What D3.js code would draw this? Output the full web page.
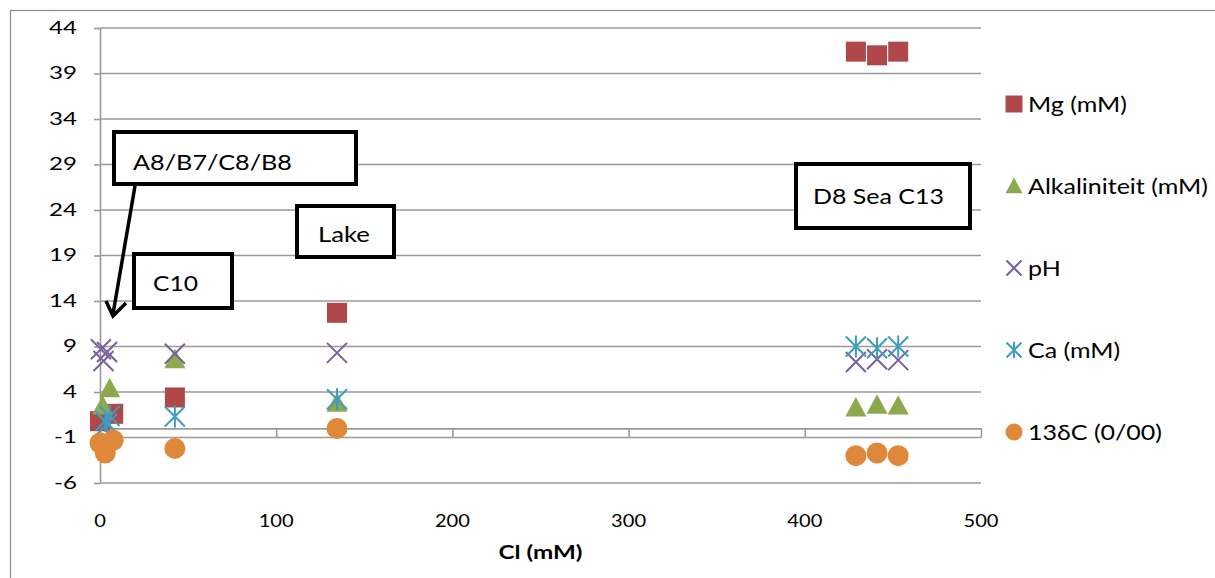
<!DOCTYPE html>
<html>
<head>
<meta charset="utf-8">
<script src="https://cdn.jsdelivr.net/npm/d3@7"></script>
<style>
  html, body { margin: 0; padding: 0; background: #fff; }
  svg { display: block; }
  text { font-family: Lato, "Open Sans", sans-serif; fill: #000; }
</style>
</head>
<body>
<svg id="chart" width="1215" height="578"></svg>
<script>
// Tick values
const yTicks = [-6, -1, 4, 9, 14, 19, 24, 29, 34, 39, 44];
const xTicks = [0, 100, 200, 300, 400, 500];

// Series: Cl concentration (mM) and measured value
const mgCl  = [0, 7.5, 42.5, 134.5, 429, 441, 453];
const mgVal = [0.8, 1.6, 3.4, 12.7, 41.4, 41.0, 41.4];

const alkCl  = [1.5, 5.5, 42.5, 134.5, 429, 441, 453];
const alkVal = [2.5, 4.4, 7.6, 2.8, 2.3, 2.6, 2.5];

const phCl  = [0.5, 4, 2, 42.5, 134.5, 429, 441, 453];
const phVal = [8.7, 8.4, 7.4, 8.2, 8.3, 7.3, 7.6, 7.5];

const caCl  = [3, 5.5, 4, 42.5, 134.5, 429, 441, 453];
const caVal = [0.8, 1.35, 0.5, 1.3, 3.2, 9.0, 8.8, 9.0];

const c13Cl  = [0, 3, 7.5, 42.5, 134.5, 429, 441, 453];
const c13Val = [-1.6, -2.7, -1.3, -2.2, 0, -3.0, -2.7, -3.0];

const seriesNames  = ["Mg (mM)", "Alkaliniteit (mM)", "pH", "Ca (mM)", "13\u03B4C (0/00)"];
const seriesColors = ["#B0484A", "#8CA94E", "#7C5F9E", "#3E9DBE", "#E0883A"];
const seriesShapes = ["square", "triangle", "x", "star", "circle"];

// Callout boxes
const boxLabels = ["A8/B7/C8/B8", "C10", "Lake", "D8 Sea C13"];

const svg = d3.select("#chart");
const W = 1215, H = 578;

const x = d3.scaleLinear().domain([0, 500]).range([100, 981]);
const y = d3.scaleLinear().domain([-6, 44]).range([483, 28]);

// Horizontal stretch so that a sample string at the given size spans the wanted width
function stretchFor(sample, size, bold, wanted) {
  const t = svg.append("text").attr("font-size", size)
    .attr("font-weight", bold ? "bold" : null).text(sample);
  const w = t.node().getComputedTextLength();
  t.remove();
  return w > 0 ? wanted / w : 1;
}

function wideText(parent, px, py, str, size, stretch, anchor, bold) {
  const g = parent.append("g").attr("transform", `translate(${px},${py}) scale(${stretch},1)`);
  g.append("text")
    .attr("text-anchor", anchor || "start")
    .attr("dy", "0.35em")
    .attr("font-size", size)
    .attr("font-weight", bold ? "bold" : null)
    .text(str);
  return g;
}

// Outer chart frame
svg.append("rect")
  .attr("x", 10.5).attr("y", 10.5)
  .attr("width", W + 20).attr("height", H + 20)
  .attr("fill", "none").attr("stroke", "#8c8c8c").attr("stroke-width", 1.2);

const gridColor = "#9a9a9a";

// Horizontal gridlines
svg.append("g").selectAll("line")
  .data(yTicks)
  .join("line")
  .attr("x1", x(0)).attr("x2", x(500))
  .attr("y1", d => y(d)).attr("y2", d => y(d))
  .attr("stroke", gridColor).attr("stroke-width", 1.6);

// Y axis (vertical line at Cl = 0)
const yAxis = d3.axisLeft(y).tickValues(yTicks).tickSize(6).tickSizeOuter(0).tickFormat("");
const gy = svg.append("g").attr("transform", `translate(${x(0)},0)`).call(yAxis);
gy.select(".domain").attr("stroke", gridColor).attr("stroke-width", 1.6);
gy.selectAll(".tick line").attr("stroke", gridColor).attr("stroke-width", 1.6);

const ySx = stretchFor("44", 17, false, 28);
const yLabels = svg.append("g");
yTicks.forEach(t => wideText(yLabels, 77, y(t), t, 17, ySx, "end"));

// X axis (horizontal line at value 0) with ticks reaching down
const xAxis = d3.axisBottom(x).tickValues(xTicks).tickSize(y(-1) - y(0)).tickSizeOuter(0).tickFormat("");
const gx = svg.append("g").attr("transform", `translate(0,${y(0)})`).call(xAxis);
gx.select(".domain").attr("stroke", gridColor).attr("stroke-width", 1.6);
gx.selectAll(".tick line").attr("stroke", gridColor).attr("stroke-width", 1.6);

// X tick labels below the plot
const xSx = stretchFor("100", 17, false, 35);
const xLabels = svg.append("g");
xTicks.forEach(t => wideText(xLabels, x(t), 521, t, 17, xSx, "middle"));

// X axis title
wideText(svg, x(250), 552, "Cl (mM)", 19, stretchFor("Cl (mM)", 19, true, 84), "middle", true);

// Marker drawing
function drawMarker(g, shape, color, s) {
  const h = s / 2;
  if (shape === "square") {
    g.append("rect").attr("x", -h).attr("y", -h).attr("width", s).attr("height", s)
      .attr("fill", color);
  } else if (shape === "triangle") {
    g.append("path").attr("d", `M0,${-h} L${h},${h * 0.85} L${-h},${h * 0.85} Z`)
      .attr("fill", color);
  } else if (shape === "circle") {
    g.append("circle").attr("r", h).attr("fill", color);
  } else if (shape === "x") {
    g.append("path").attr("d", `M${-h},${-h} L${h},${h} M${-h},${h} L${h},${-h}`)
      .attr("stroke", color).attr("stroke-width", 2).attr("fill", "none");
  } else if (shape === "star") {
    g.append("path").attr("d", `M${-h},${-h} L${h},${h} M${-h},${h} L${h},${-h} M0,${-h * 1.1} L0,${h * 1.1}`)
      .attr("stroke", color).attr("stroke-width", 2).attr("fill", "none");
  }
}

const seriesData = [
  mgCl.map((c, i) => [c, mgVal[i]]),
  alkCl.map((c, i) => [c, alkVal[i]]),
  phCl.map((c, i) => [c, phVal[i]]),
  caCl.map((c, i) => [c, caVal[i]]),
  c13Cl.map((c, i) => [c, c13Val[i]])
];

const markerSize = [20, 21, 20, 20, 21];

seriesData.forEach((pts, si) => {
  const g = svg.append("g");
  pts.forEach(p => {
    const m = g.append("g").attr("transform", `translate(${x(p[0])},${y(p[1])})`);
    drawMarker(m, seriesShapes[si], seriesColors[si], markerSize[si]);
  });
});

// Legend
const legendY = [104, 186, 268, 350, 432];
const legend = svg.append("g");
const lSx = stretchFor("Alkaliniteit (mM)", 22, false, 180);
seriesNames.forEach((name, i) => {
  const m = legend.append("g").attr("transform", `translate(1014,${legendY[i]})`);
  drawMarker(m, seriesShapes[i], seriesColors[i], seriesShapes[i] === "x" || seriesShapes[i] === "star" ? 15 : 17);
  wideText(legend, 1028, legendY[i], name, 22, lSx, "start");
});

// Callout boxes
const boxes = [
  { x0: 114, y0: 132, x1: 356, y1: 184, tx: 133, ty: 162, w: 159 },
  { x0: 134, y0: 254, x1: 232, y1: 308, tx: 153, ty: 283, w: 45 },
  { x0: 297, y0: 206, x1: 394, y1: 257, tx: 318, ty: 234, w: 52 },
  { x0: 796, y0: 164, x1: 970, y1: 228, tx: 813, ty: 196, w: 131 }
];
boxes.forEach((b, i) => {
  svg.append("rect")
    .attr("x", b.x0).attr("y", b.y0)
    .attr("width", b.x1 - b.x0).attr("height", b.y1 - b.y0)
    .attr("fill", "#fff").attr("stroke", "#000").attr("stroke-width", 4);
  wideText(svg, b.tx, b.ty, boxLabels[i], 22,
    stretchFor(boxLabels[i], 22, false, b.w), "start");
});

// Arrow from the A8/B7/C8/B8 box down to the cluster near Cl = 0
svg.append("path")
  .attr("d", "M135,186 L113,314")
  .attr("stroke", "#000").attr("stroke-width", 3.5).attr("fill", "none");
svg.append("path")
  .attr("d", "M106,301 L113,316 L126,303")
  .attr("stroke", "#000").attr("stroke-width", 3.5).attr("fill", "none")
  .attr("stroke-linejoin", "miter");
</script>
</body>
</html>
